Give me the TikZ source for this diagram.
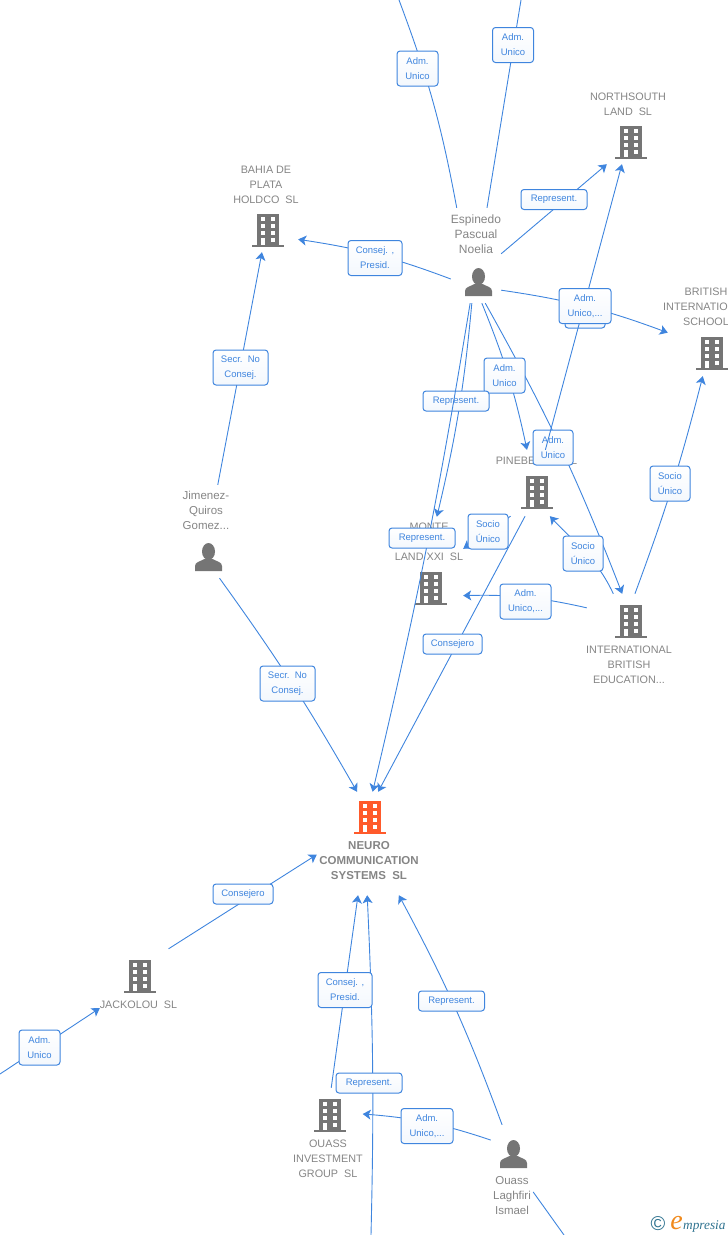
\documentclass[tikz,border=0pt]{standalone}
\usepackage{fontspec}
\setmainfont{Liberation Sans}
\newfontfamily\markfont{Liberation Serif}
\usetikzlibrary{arrows.meta}
\usetikzlibrary{positioning}
\definecolor{linkblue}{HTML}{3F85DE}
\definecolor{entgray}{HTML}{757575}
\definecolor{nametext}{HTML}{858585}
\definecolor{mainorange}{HTML}{FF5A2B}
\definecolor{markteal}{HTML}{2F7390}
\definecolor{markorange}{HTML}{F08A1D}

\begin{document}
\begin{tikzpicture}[
    x=1pt,
    y=-1pt,
    entbox/.style={
        rectangle,
        inner sep=0pt,
        },
    entname/.style={
        align=center,
        inner sep=0pt,
        text=nametext,
        font=\fontsize{10.8}{15}\selectfont,
        },
    linkbox/.style={
        rectangle,
        rounded corners=3pt,
        draw=linkblue,
        line width=1pt,
        top color=white,
        bottom color=linkblue!6,
        align=center,
        inner sep=0pt,
        minimum height=20pt,
        text=linkblue,
        font=\fontsize{9.5}{15}\selectfont,
        },
    linktwo/.style={
        linkbox,
        minimum height=35pt,
        },
    ArrowL/.style={
        draw=linkblue,
        line width=0.9pt,
        },
    ArrowT/.style={
        ArrowL,
        -{Stealth[length=8pt,width=10pt,inset=2pt]},
        },
    building/.pic={
        \fill [pic actions] (-11.3,-16.5) rectangle (11.3,15);
        \fill [pic actions] (-16,15) rectangle (16,16.8);
        \foreach \r in {-13.2,-6.3,0.7}{
            \fill [white] (-7.3,\r) rectangle (-2.6,\r+4.6);
            \fill [white] (2.6,\r) rectangle (7.3,\r+4.6);
        }
        \fill [white] (-7.3,7.5) rectangle (-2.6,15);
        \fill [white] (2.6,7.5) rectangle (7.3,12.1);
        },
    person/.pic={
        \fill [entgray] (0.5,-5.5) ellipse (6.5 and 8.5);
        \fill [entgray] (-13,14) -- (-13,9) .. controls (-13,5) and (-8,4.5) .. (-3.5,2)
            -- (4.5,2) .. controls (9,4.5) and (14,5) .. (14,9) -- (14,14) -- cycle;
        },
    ]

    \useasboundingbox (0,0) rectangle (728,1235);
    \clip (0,0) rectangle (728,1235);

    \node [entbox, minimum width=50pt, minimum height=95pt] (esp) at (476,255.5) {};
    \node [entbox, minimum width=64pt, minimum height=92pt] (bahia) at (266,206) {};
    \node [entbox, minimum width=74pt, minimum height=76pt] (north) at (628,126) {};
    \node [entbox, minimum width=76pt, minimum height=92pt] (brit) at (706,330) {};
    \node [entbox, minimum width=82pt, minimum height=66pt] (pine) at (536.5,483) {};
    \node [entbox, minimum width=64pt, minimum height=95pt] (monte) at (431,564.5) {};
    \node [entbox, minimum width=84pt, minimum height=96pt] (intl) at (629,642) {};
    \node [entbox, minimum width=50pt, minimum height=93pt] (jimenez) at (207,531.5) {};
    \node [entbox, minimum width=104pt, minimum height=103pt] (neuro) at (369,843.5) {};
    \node [entbox, minimum width=77pt, minimum height=64pt] (jack) at (138.5,981) {};
    \node [entbox, minimum width=69pt, minimum height=92pt] (ouassInv) at (328,1134) {};
    \node [entbox, minimum width=42pt, minimum height=93pt] (ouassL) at (512,1171.5) {};

    \coordinate (offA) at (399,0);
    \coordinate (offB) at (521,0);
    \coordinate (offC) at (0,1074);
    \coordinate (offD) at (371,1235);
    \coordinate (offE) at (564,1235);

    \pic [fill=entgray] at (268,230) {building};
    \pic [fill=entgray] at (631,142) {building};
    \pic [fill=entgray] at (712,353) {building};
    \pic [fill=entgray] at (537,492) {building};
    \pic [fill=entgray] at (431,588) {building};
    \pic [fill=entgray] at (631,621) {building};
    \pic [fill=mainorange] at (370,817) {building};
    \pic [fill=entgray] at (140,976) {building};
    \pic [fill=entgray] at (330,1115) {building};
    \pic at (478,282) {person};
    \pic at (208,557) {person};
    \pic at (513,1154) {person};

    \node [entname] (bahiaName) at (266,184.5) {BAHIA DE\\PLATA\\HOLDCO\ \ SL};
    \node [entname] (northName) at (628,104) {NORTHSOUTH\\LAND\ \ SL};
    \node [entname] (britName) at (706,307) {BRITISH\\INTERNATIONAL\\SCHOOL};
    \node [entname, font=\fontsize{12}{15}\selectfont] (espName) at (476,234) {Espinedo\\Pascual\\Noelia};
    \node [entname, font=\fontsize{11.5}{15}\selectfont] (jimenezName) at (206,510) {Jimenez-\\Quiros\\Gomez...};
    \node [entname] (pineName) at (536.5,461) {PINEBERRY\ \ SL};
    \node [entname] (monteName) at (429,542) {MONTE\\\mbox{}\\LAND XXI\ \ SL};
    \node [entname] (intlName) at (629,665) {INTERNATIONAL\\BRITISH\\EDUCATION...};
    \node [entname, font=\bfseries\fontsize{11.5}{15}\selectfont] (neuroName) at (369,860.5) {NEURO\\COMMUNICATION\\SYSTEMS\ \ SL};
    \node [entname] (jackName) at (138.5,1005) {JACKOLOU\ \ SL};
    \node [entname] (ouassInvName) at (328,1159) {OUASS\\INVESTMENT\\GROUP\ \ SL};
    \node [entname, font=\fontsize{11.5}{15}\selectfont] (ouassLName) at (512,1195.5) {Ouass\\Laghfiri\\Ismael};

    \draw [ArrowL] (offA) to [bend left=5] (esp.112);
    \draw [ArrowL] (offB) -- (esp.77);
    \draw [ArrowT] (esp.4) -- (north.-119);
    \draw [ArrowT] (esp.223) to [bend right=6] (bahia.-46.7);
    \draw [ArrowT] (esp.-54) to [bend left=6] (brit.184.5);
    \draw [ArrowT] (esp.-83) to [bend left=5] (pine.106);
    \draw [ArrowT] (esp.-79) to [bend left=4] (intl.98);
    \draw [ArrowT] (esp.-95) to [bend left=4] (monte.83);
    \draw [ArrowT] (pine.-109) -- (neuro.80);
    \draw [ArrowT] (pine.-128) -- (monte.26);
    \draw [ArrowT] (intl.108) to [out=115, in=-47] (pine.-68);
    \draw [ArrowT] (intl.141) to [bend right=7] (monte.-44.5);
    \draw [ArrowT] (intl.83) to [bend right=3] (brit.-94);
    \draw [ArrowT] (jimenez.77) -- (bahia.-95);
    \draw [ArrowT] (jimenez.-75.5) to [bend left=3] (neuro.103);
    \draw [ArrowT] (jack.47) -- (neuro.192.5);
    \draw [ArrowT] (offC) -- (jack.-145);
    \draw [ArrowT] (ouassInv.86) -- (neuro.-102);
    \draw [ArrowT] (offD) to [bend right=2] (neuro.-92);
    \draw [ArrowT] (ouassL.102) to [bend right=4] (neuro.-60.6);
    \draw [ArrowT] (ouassL.124) to [bend right=7] (ouassInv.30.5);
    \draw [ArrowL] (ouassL.-44) -- (offE);

    \node [linktwo, minimum width=41pt] (admTopA) at (417.5,68.5) {Adm.\\Unico};
    \node [linktwo, minimum width=41pt] (admTopB) at (513,45) {Adm.\\Unico};
    \node [linkbox, minimum width=66pt] (repNorth) at (554,199.5) {Represent.};
    \node [linktwo, minimum width=54pt] (consBahia) at (375,258) {Consej. ,\\Presid.};
    \node [linktwo, minimum width=41pt] (admPine) at (504.5,375.5) {Adm.\\Unico};
    \node [linkbox, minimum width=66pt] (repMonte) at (456,401) {Represent.};
    \draw [ArrowT] (esp.-97) to [bend left=2] (neuro.86.7);
    \node [linkbox, minimum width=40pt] (admBack) at (585,318) {};
    \node [linktwo, minimum width=40pt] (admNorth) at (553,447.5) {Adm.\\Unico};
    \draw [ArrowT] (pine.75.5) -- (north.-99);
    \node [linktwo, minimum width=52pt] (admBrit) at (585,306) {Adm.\\Unico,...};
    \node [linktwo, minimum width=40pt] (socBrit) at (670,483.5) {Socio\\Único};
    \node [linktwo, minimum width=40pt] (socMonte) at (488,531.5) {Socio\\Único};
    \node [linkbox, minimum width=66pt] (repNeuro) at (422,538) {Represent.};
    \node [linktwo, minimum width=40pt] (socPine) at (583,553.5) {Socio\\Único};
    \node [linktwo, minimum width=51pt] (admMonte) at (525.5,601.5) {Adm.\\Unico,...};
    \node [linkbox, minimum width=59pt] (consNeuro) at (452.5,644) {Consejero};
    \node [linktwo, minimum width=55pt] (secBahia) at (240.5,367.5) {Secr.\ \ No\\Consej.};
    \node [linktwo, minimum width=55pt] (secNeuro) at (287.5,683.5) {Secr.\ \ No\\Consej.};
    \node [linkbox, minimum width=60pt] (consJack) at (243,894) {Consejero};
    \node [linktwo, minimum width=41pt] (admJack) at (39.5,1047.5) {Adm.\\Unico};
    \node [linktwo, minimum width=54pt] (consInv) at (345,990) {Consej. ,\\Presid.};
    \node [linkbox, minimum width=66pt] (repOuass) at (451.5,1001) {Represent.};
    \node [linkbox, minimum width=66pt] (repOff) at (369,1083) {Represent.};
    \node [linktwo, minimum width=52pt] (admInv) at (427,1126) {Adm.\\Unico,...};

    \node [inner sep=0pt, text=markteal, font=\fontsize{20}{20}\selectfont] (markC) at (658,1224) {©};
    \node [inner sep=0pt, anchor=base west, text=markteal, font=\markfont\itshape\fontsize{13.3}{15}\selectfont] (markName) at (683,1229) {mpresia};
    \node [inner sep=0pt, anchor=base east, text=markorange, font=\markfont\itshape\fontsize{28}{28}\selectfont] (markE) at (markName.base west) {e};

\end{tikzpicture}
\end{document}
